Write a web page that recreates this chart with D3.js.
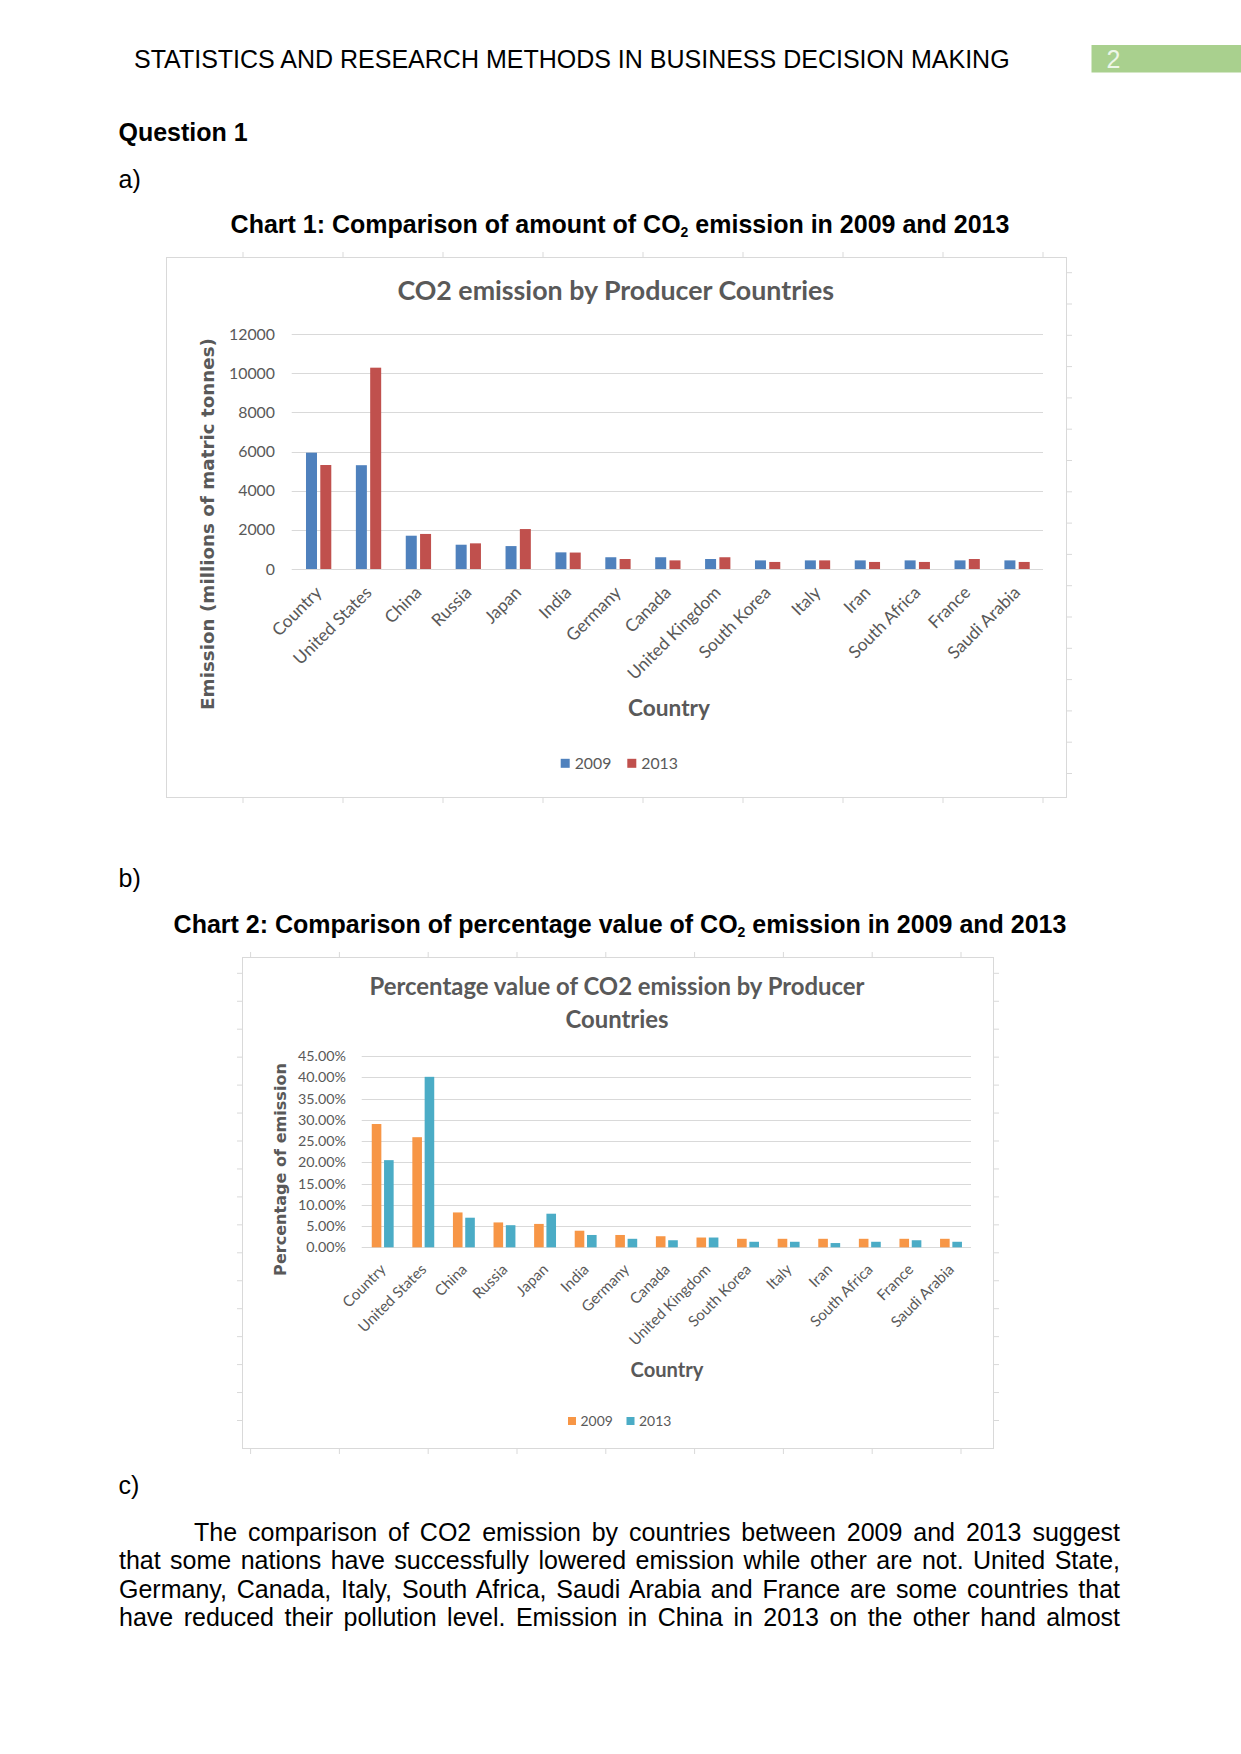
<!DOCTYPE html>
<html><head><meta charset="utf-8">
<script src="https://cdn.jsdelivr.net/npm/d3@7"></script>
<style>body{margin:0;background:#fff}svg{display:block}</style>
</head><body><svg id="page" width="1241" height="1754"></svg>
<script>
// ---------------- DATA ----------------
const categories = ["Country","United States","China","Russia","Japan","India","Germany","Canada","United Kingdom","South Korea","Italy","Iran","South Africa","France","Saudi Arabia"];
const seriesNames = ["2009","2013"];
const emission2009 = [5940,5300,1700,1240,1170,850,600,600,510,440,440,440,440,440,440];
const emission2013 = [5310,10280,1790,1310,2040,840,510,440,600,360,440,360,360,510,360];
const pct2009 = [0.290,0.259,0.082,0.0585,0.055,0.039,0.029,0.026,0.023,0.020,0.020,0.020,0.020,0.020,0.020];
const pct2013 = [0.205,0.401,0.0696,0.052,0.079,0.029,0.020,0.0166,0.023,0.013,0.013,0.010,0.013,0.0166,0.013];
const emissionTicks = [0,2000,4000,6000,8000,10000,12000];
const pctTicks = [0,0.05,0.10,0.15,0.20,0.25,0.30,0.35,0.40,0.45];
const bodyLines = [
  "The comparison of CO2 emission by countries between 2009 and 2013 suggest",
  "that some nations have successfully lowered emission while other are not. United State,",
  "Germany, Canada, Italy, South Africa, Saudi Arabia and France are some countries that",
  "have reduced their pollution level. Emission in China in 2013 on the other hand almost"
];

// ---------------- HELPERS ----------------
const ctx = document.createElement('canvas').getContext('2d');
function fit(text, family, weight, target){
  ctx.font = `${weight} 100px ${family}`;
  return 100*target/ctx.measureText(text).width;
}
const svg = d3.select('#page');
svg.append('rect').attr('width',1241).attr('height',1754).attr('fill','#fff');
const DOC = '"Liberation Sans", Arial, sans-serif';
const CH = 'Lato, "Open Sans", sans-serif';
const YT = '"DejaVu Sans", Verdana, sans-serif';
const GRAY = '#595959', GRID = '#D9D9D9';

// ---------------- DOCUMENT TEXT ----------------
svg.append('text').attr('x',134).attr('y',67.5).attr('font-family',DOC).attr('font-size',25)
  .attr('fill','#000').text('STATISTICS AND RESEARCH METHODS IN BUSINESS DECISION MAKING');
svg.append('rect').attr('x',1091.5).attr('y',45).attr('width',149.5).attr('height',27.5).attr('fill','#A9D08E');
svg.append('text').attr('x',1106.5).attr('y',68.3).attr('font-family',DOC).attr('font-size',25)
  .attr('fill','#EEF6E8').text('2');
svg.append('text').attr('x',118.5).attr('y',141).attr('font-family',DOC).attr('font-size',25)
  .attr('font-weight','bold').text('Question 1');
svg.append('text').attr('x',118.5).attr('y',187.5).attr('font-family',DOC).attr('font-size',25).text('a)');
svg.append('text').attr('x',118.5).attr('y',887).attr('font-family',DOC).attr('font-size',25).text('b)');
svg.append('text').attr('x',118.5).attr('y',1494).attr('font-family',DOC).attr('font-size',25).text('c)');

function chartCaption(y, label){
  const t = svg.append('text').attr('x',620).attr('y',y).attr('text-anchor','middle')
    .attr('font-family',DOC).attr('font-size',25).attr('font-weight','bold');
  t.append('tspan').text(label[0]);
  t.append('tspan').attr('font-size',14).attr('dy',4).text('2');
  t.append('tspan').attr('dy',-4).text(label[1]);
}
chartCaption(233, ['Chart 1: Comparison of amount of CO',' emission in 2009 and 2013']);
chartCaption(933, ['Chart 2: Comparison of percentage value of CO',' emission in 2009 and 2013']);

// body paragraph, justified
const bodyBase = [1541,1569,1598,1626];
bodyLines.forEach((line,i)=>{
  const x0 = i===0 ? 194 : 119, x1 = 1120;
  const t = svg.append('text').attr('x',x0).attr('y',bodyBase[i]).attr('font-family',DOC)
    .attr('font-size',25).attr('fill','#000').text(line);
  const w = t.node().getComputedTextLength();
  const n = line.split(' ').length-1;
  t.style('word-spacing', ((x1-x0-w)/n)+'px');
});

// ---------------- CHART ----------------
function drawChart(cfg){
  const g = svg.append('g');
  const [bx,by,bw,bh] = cfg.box;
  // spreadsheet cell marks around the picture
  cfg.hMarks.forEach(x=>{
    g.append('line').attr('x1',x).attr('x2',x).attr('y1',by-5).attr('y2',by).attr('stroke',GRID);
    g.append('line').attr('x1',x).attr('x2',x).attr('y1',by+bh).attr('y2',by+bh+6).attr('stroke',GRID);
  });
  cfg.vMarks.forEach(y=>{
    g.append('line').attr('x1',bx+bw).attr('x2',bx+bw+6).attr('y1',y).attr('y2',y).attr('stroke',GRID);
    if(cfg.leftMarks) g.append('line').attr('x1',bx-5).attr('x2',bx).attr('y1',y).attr('y2',y).attr('stroke',GRID);
  });
  g.append('rect').attr('x',bx+.5).attr('y',by+.5).attr('width',bw).attr('height',bh)
    .attr('fill','#fff').attr('stroke',GRID);

  // title
  const tSize = fit(cfg.title[0], CH, 'bold', cfg.titleW);
  cfg.title.forEach((tl,i)=>{
    g.append('text').attr('x',cfg.titleX).attr('y',cfg.titleY[i]).attr('text-anchor','middle')
      .attr('font-family',CH).attr('font-weight','bold').attr('font-size',tSize).attr('fill',GRAY).text(tl);
  });

  const x0 = d3.scaleBand().domain(categories).range(cfg.xRange);
  const pairW = 2*cfg.barW + cfg.gap;
  const x1 = d3.scaleBand().domain(seriesNames)
    .range([x0.bandwidth()/2 - pairW/2, x0.bandwidth()/2 + pairW/2])
    .paddingInner(cfg.gap/(cfg.barW+cfg.gap)).paddingOuter(0);
  const y = d3.scaleLinear().domain([0, cfg.ticks[cfg.ticks.length-1]]).range(cfg.yRange);

  // gridlines
  g.selectAll('.grid').data(cfg.ticks).join('line')
    .attr('x1',cfg.gridX[0]).attr('x2',cfg.gridX[1])
    .attr('y1',d=>Math.round(y(d))+.5).attr('y2',d=>Math.round(y(d))+.5)
    .attr('stroke',GRID).attr('stroke-width',1.2);

  // y axis labels via d3 axis
  const tickSize = fit(cfg.tickSample, CH, 'normal', cfg.tickSampleW);
  const yAx = g.append('g').attr('transform',`translate(${cfg.yLabelX},0)`)
    .call(d3.axisLeft(y).tickValues(cfg.ticks).tickFormat(cfg.fmt).tickSize(0).tickPadding(0));
  yAx.select('.domain').remove();
  yAx.selectAll('text').attr('font-family',CH).attr('font-size',tickSize).attr('fill',GRAY);

  // bars
  const data = categories.map((c,i)=>({c, vals: cfg.series.map((s,j)=>({k:seriesNames[j], v:s[i]}))}));
  const grp = g.selectAll('.grp').data(data).join('g').attr('transform',d=>`translate(${x0(d.c)},0)`);
  grp.selectAll('rect').data(d=>d.vals).join('rect')
    .attr('x',d=>x1(d.k)).attr('width',x1.bandwidth())
    .attr('y',d=>y(d.v)).attr('height',d=>y(0)-y(d.v))
    .attr('fill',(d,j)=>cfg.colors[j]);

  // x labels rotated
  const lblSize = fit('United States', CH, 'normal', cfg.xLabelW);
  g.selectAll('.xl').data(categories).join('text')
    .attr('transform',d=>`translate(${x0(d)+x0.bandwidth()/2+cfg.lblOff[0]},${y(0)+cfg.lblOff[1]}) rotate(-45)`)
    .attr('text-anchor','end').attr('dy','0.71em')
    .attr('font-family',CH).attr('font-size',lblSize).attr('fill',GRAY).text(d=>d);

  // axis titles
  const xtSize = fit('Country', CH, 'bold', cfg.xTitleW);
  g.append('text').attr('x',cfg.xTitle[0]).attr('y',cfg.xTitle[1]).attr('text-anchor','middle')
    .attr('font-family',CH).attr('font-weight','bold').attr('font-size',xtSize).attr('fill',GRAY).text('Country');
  const ytSize = fit(cfg.yTitle, YT, 'bold', cfg.yTitleW);
  g.append('text').attr('transform',`translate(${cfg.yTitlePos[0]},${cfg.yTitlePos[1]}) rotate(-90)`)
    .attr('text-anchor','middle').attr('dy','0.36em')
    .attr('font-family',YT).attr('font-weight','bold').attr('font-size',ytSize).attr('fill',GRAY).text(cfg.yTitle);

  // legend
  const lgSize = fit('2009', CH, 'normal', cfg.legendW);
  seriesNames.forEach((s,j)=>{
    const lx = cfg.legendX[j];
    g.append('rect').attr('x',lx).attr('y',cfg.legendY-cfg.sq/2).attr('width',cfg.sq).attr('height',cfg.sq).attr('fill',cfg.colors[j]);
    g.append('text').attr('x',lx+cfg.sq+cfg.sqGap).attr('y',cfg.legendY).attr('dy','0.36em')
      .attr('font-family',CH).attr('font-size',lgSize).attr('fill',GRAY).text(s);
  });
}

drawChart({
  box:[166,257,900,540],
  hMarks:d3.range(9).map(i=>243+100*i),
  vMarks:d3.range(17).map(i=>272.7+31.3*i),
  leftMarks:false,
  title:['CO2 emission by Producer Countries'], titleW:438, titleX:615.7, titleY:[300],
  xRange:[293.7,1042], gridX:[291.7,1043], yRange:[569,334],
  ticks:emissionTicks, fmt:d3.format('d'), tickSample:'12000', tickSampleW:46, yLabelX:275,
  series:[emission2009, emission2013], colors:['#4F81BD','#C0504D'], barW:11, gap:3.3,
  xLabelW:102, lblOff:[-4.5,16],
  xTitle:[669,715.5], xTitleW:82,
  yTitle:'Emission (millions of matric tonnes)', yTitleW:372, yTitlePos:[207.5,524],
  legendX:[560.7,627.3], legendY:763.3, sq:9, sqGap:5, legendW:36.7
});

drawChart({
  box:[242,957,751,491],
  hMarks:d3.range(9).map(i=>250.6+88.8*i),
  vMarks:d3.range(17).map(i=>973.3+27.95*i),
  leftMarks:true,
  title:['Percentage value of CO2 emission by Producer','Countries'], titleW:497, titleX:617, titleY:[994.5,1028],
  xRange:[362.4,971.3], gridX:[361.7,971], yRange:[1247.3,1056],
  ticks:pctTicks, fmt:d3.format('.2%'), tickSample:'40.00%', tickSampleW:48, yLabelX:346,
  series:[pct2009, pct2013], colors:['#F79646','#4BACC6'], barW:9.6, gap:2.7,
  xLabelW:89, lblOff:[-3.5,15.5],
  xTitle:[667,1376.5], xTitleW:73,
  yTitle:'Percentage of emission', yTitleW:213, yTitlePos:[280,1169.5],
  legendX:[568,626.5], legendY:1421, sq:8, sqGap:4.5, legendW:32.3
});
</script>
</body></html>
